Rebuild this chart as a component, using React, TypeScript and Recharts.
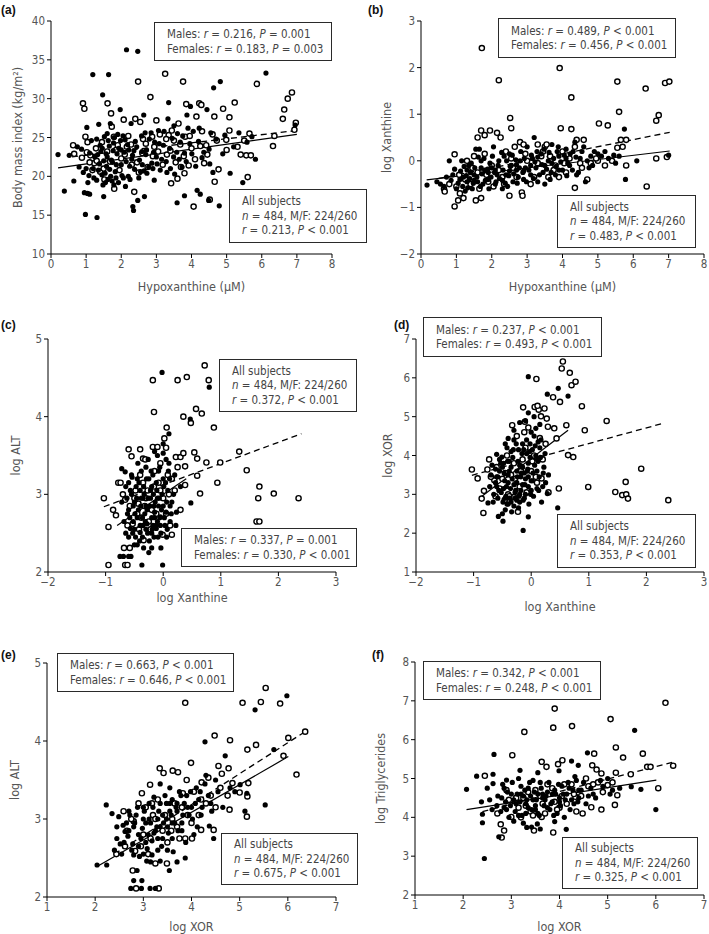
import React from 'react';
import { ScatterChart, Scatter, XAxis, YAxis, ReferenceLine } from 'recharts';

type Pt = [number, number];

const FONT = '"Liberation Sans Narrow", "DejaVu Sans Condensed", "Open Sans", sans-serif';

// ---- (a) Hypoxanthine vs BMI ----
const aFilled: Pt[] = [
  [0.2, 22.8], [0.38, 18.1], [0.52, 22.7], [0.65, 19.4], [0.87, 23.5], [0.95, 17.9], [0.98, 15.1], [1.04, 17.8],
  [1.02, 26.3], [1.1, 17.7], [1.19, 33.1], [1.31, 14.7], [1.36, 26.7], [1.47, 30.5], [1.5, 17.4], [1.64, 33.1],
  [1.69, 26.8], [1.45, 20.2], [1.6, 22.5], [1.79, 18.9], [1.93, 23.6], [1.97, 28.6], [2.12, 18.7], [2.15, 36.3],
  [2.21, 23.4], [2.28, 26.8], [2.33, 16.1], [2.35, 15.6], [2.47, 36.1], [2.47, 16.9], [2.59, 23.2], [2.66, 17.4],
  [2.64, 27.9], [2.73, 20.4], [2.87, 21.7], [2.94, 19.5], [3.06, 25.9], [3.11, 20.8], [3.33, 27.4], [3.35, 29.5],
  [3.49, 22.5], [3.59, 16.6], [3.68, 24.4], [3.73, 21.2], [3.8, 17.5], [3.87, 27.9], [3.97, 29], [4.01, 22.9],
  [4.16, 18.2], [4.25, 17.7], [4.3, 22.4], [4.44, 28.6], [4.55, 25.6], [4.49, 16.9], [4.63, 31.4], [4.61, 20.5],
  [4.82, 32.2], [4.79, 16.2], [4.89, 22.9], [5.1, 20.4], [5.46, 19.2], [5.58, 24.4], [5.72, 25.1], [5.82, 22.2],
  [6.12, 33.3], [6.95, 26.6], [1.2, 21], [1.4, 24], [1.5, 22], [1.7, 20], [1.8, 25], [2.0, 21.5], [2.2, 20],
  [2.4, 24.5], [2.6, 21.5], [2.8, 24.8], [3.0, 22.5], [3.2, 24], [3.4, 21], [3.6, 25.5], [3.8, 23], [4.2, 24.5],
  [1.1, 23], [1.3, 19.5], [1.6, 25.5], [2.5, 19.8], [3.3, 20.5], [1.0, 21], [4.5, 23.5], [2.9, 21],
  [1.55, 19.2], [1.75, 21.8], [1.85, 19.8], [2.05, 25.2], [2.3, 22.2], [2.7, 22.8], [3.5, 26.5], [3.9, 26.2],
  [1.25, 22.5], [1.3, 24.8], [1.35, 20.8], [1.42, 23.2], [1.48, 18.9], [1.52, 25.1], [1.58, 21.3], [1.62, 19.6],
  [1.66, 23.9], [1.72, 22.1], [1.78, 24.3], [1.83, 20.6], [1.88, 22.9], [1.92, 19.2], [1.98, 24.6], [2.02, 20.1],
  [2.08, 23.1], [2.14, 21.9], [2.18, 24.1], [2.25, 19.6], [2.32, 22.7], [2.38, 20.9], [2.44, 23.8], [2.52, 22.1],
  [2.58, 25.2], [2.65, 20.7], [2.72, 23.4], [2.78, 21.2], [2.85, 25.6], [2.92, 23.1], [3.02, 21.6], [3.08, 24.2],
  [3.15, 22.2], [3.22, 25.8], [3.28, 21.9], [3.38, 23.6], [3.45, 24.9], [3.52, 20.3], [3.58, 23.1], [3.65, 22.2],
  [3.75, 25.2], [3.85, 21.9], [3.95, 24.2], [4.05, 25.8], [4.12, 21.3], [4.22, 26.2], [4.35, 23.1], [4.52, 21.6],
  [4.7, 24.8], [4.95, 25.3], [5.2, 23.8], [5.35, 25.6], [0.8, 21.2], [0.92, 20.5], [1.08, 20.1], [1.15, 24.6],
  [0.75, 23.8], [1.05, 19.2], [1.22, 19.8], [1.33, 22.8], [1.38, 21.6], [1.46, 23.6], [1.54, 20.4], [1.57, 22.9],
  [1.63, 24.6], [1.67, 20.9], [1.74, 19.4], [1.77, 23.3], [1.86, 21.5], [1.9, 25.4], [2.0, 23.4], [2.06, 19.8],
  [2.11, 24.7], [2.24, 21.3], [2.36, 23.3], [2.55, 20.6], [2.68, 25.6], [2.95, 24.4],
];
const aOpen: Pt[] = [
  [0.91, 29.4], [0.95, 28.7], [0.63, 24], [0.66, 22.9], [0.98, 25.1], [1.04, 24.4], [1.12, 22.7], [1.23, 21.7],
  [1.4, 20.6], [1.61, 29.4], [1.71, 28.1], [1.73, 26.4], [1.79, 25.1], [1.8, 18.4], [2.07, 27.3], [2.16, 23.8],
  [2.37, 18], [2.48, 32.2], [2.4, 27.4], [2.54, 27], [2.83, 30.2], [2.94, 23.8], [3.0, 27.2], [3.25, 33.2],
  [3.35, 25.3], [3.42, 19.1], [3.44, 25.9], [3.63, 26.8], [3.76, 32.2], [3.82, 25.1], [3.85, 29.3], [3.92, 21.4],
  [4.06, 16.1], [4.14, 27.7], [4.22, 29.4], [4.28, 29.2], [4.36, 21.7], [4.42, 24], [4.52, 17], [4.66, 19.3],
  [4.65, 27.7], [4.72, 24.6], [4.77, 20.9], [4.9, 28.7], [4.99, 24.7], [5.08, 27.6], [5.08, 25.9], [5.23, 29.5],
  [5.31, 23.8], [5.56, 22.7], [5.6, 19.9], [5.65, 25.5], [5.69, 22.7], [5.86, 31.9], [6.32, 23.9], [6.36, 25.2],
  [6.6, 27.4], [6.64, 28.6], [6.74, 30], [6.86, 30.8], [6.93, 26], [6.97, 26.9], [1.3, 22], [1.5, 21], [1.9, 24],
  [2.0, 22.3], [2.3, 21.5], [2.6, 23], [2.7, 24.2], [3.1, 25.4], [3.3, 22.8], [3.5, 24.6], [3.7, 21.2], [4.0, 23.6],
  [1.6, 23.2], [2.2, 25.2], [2.9, 22.6], [3.8, 20.4], [1.1, 21.8], [4.3, 25.8], [2.5, 20.5], [3.6, 19.7],
  [1.18, 20.8], [1.28, 23.6], [1.45, 24.4], [1.52, 19.6], [1.68, 21.9], [1.85, 23.4], [1.95, 20.8], [2.1, 22.8],
  [2.28, 24.1], [2.45, 21.8], [2.62, 24.8], [2.75, 21.2], [2.88, 25.1], [3.05, 23.2], [3.18, 21.5], [3.28, 24.8],
  [3.4, 23.3], [3.55, 21.8], [3.68, 24.1], [3.78, 22.6], [3.95, 25.2], [4.1, 22.2], [4.25, 23.9], [4.45, 22.8],
  [4.6, 25.4], [5.0, 23.4], [5.4, 22.8], [5.5, 24.6], [0.88, 22.4], [1.02, 23.1],
];
const aSolid: Pt[] = [[0.2, 21.1], [7, 25.4]];
const aDashed: Pt[] = [[0.6, 22.5], [7, 25.9]];

// ---- (b) Hypoxanthine vs log Xanthine ----
const bFilled: Pt[] = [
  [0.17, -0.52], [0.45, -0.45], [0.55, -0.5], [0.65, -0.55], [0.9, -0.3], [0.8, 0.0], [1.0, -0.6], [1.1, -0.4],
  [1.2, -0.35], [1.3, -0.45], [1.35, -0.1], [1.45, -0.6], [1.5, -0.3], [1.55, 0.25], [1.65, 0.25], [1.7, 0.0],
  [1.8, -0.2], [1.9, -0.4], [2.0, -0.15], [2.1, -0.5], [2.2, 0.0], [2.3, -0.6], [2.4, -0.3], [2.5, 0.15],
  [2.6, -0.45], [2.7, -0.2], [2.8, 0.0], [2.9, -0.4], [3.0, 0.3], [3.1, -0.1], [3.2, 0.5], [3.3, -0.45],
  [3.4, 0.15], [3.5, -0.5], [3.6, 0.0], [3.7, 0.35], [3.8, -0.3], [3.9, 0.1], [4.0, -0.2], [4.1, 0.25],
  [4.2, -0.1], [4.3, 0.2], [4.4, -0.3], [4.5, 0.05], [4.6, 0.3], [4.65, -0.45], [4.8, 0.1], [4.9, 0.2],
  [5.1, 0.1], [5.3, 0.05], [5.6, 0.1], [5.75, 0.68], [5.78, -0.4], [6.1, 0.0], [7.0, 0.12], [1.75, -0.5],
  [2.45, -0.55], [3.25, -0.15], [1.25, -0.65], [2.05, 0.3], [1.4, -0.25], [1.6, -0.45], [1.95, -0.05],
  [2.15, -0.3], [2.35, 0.1], [2.55, -0.1], [2.75, -0.35], [2.95, -0.15], [3.15, 0.05], [3.45, -0.25],
  [3.65, -0.4], [3.85, 0.2], [4.15, -0.05], [4.35, 0.4], [4.75, -0.15], [5.2, 0.2], [5.5, -0.05], [1.15, 0.0],
  [1.05, -0.48], [1.12, -0.22], [1.18, -0.55], [1.22, -0.12], [1.28, -0.32], [1.32, -0.58], [1.38, -0.38],
  [1.42, -0.05], [1.48, -0.48], [1.52, -0.15], [1.58, -0.35], [1.62, 0.08], [1.68, -0.55], [1.72, -0.28],
  [1.78, 0.05], [1.82, -0.42], [1.88, -0.18], [1.92, -0.6], [1.98, -0.35], [2.02, 0.1], [2.08, -0.25],
  [2.12, -0.45], [2.18, -0.1], [2.22, -0.38], [2.28, 0.18], [2.32, -0.2], [2.38, -0.48], [2.42, 0.0],
  [2.48, -0.32], [2.52, -0.12], [2.58, 0.12], [2.62, -0.28], [2.68, 0.02], [2.72, -0.48], [2.78, -0.15],
  [2.82, 0.2], [2.88, -0.25], [2.92, 0.05], [2.98, -0.45], [3.05, -0.2], [3.12, 0.12], [3.18, -0.38],
  [3.22, -0.02], [3.28, 0.2], [3.35, -0.3], [3.42, -0.08], [3.48, 0.25], [3.55, -0.18], [3.62, 0.18],
  [3.68, -0.25], [3.75, 0.05], [3.82, -0.12], [3.88, 0.3], [3.95, -0.02], [4.05, 0.12], [4.12, -0.32],
  [4.22, 0.15], [4.28, -0.2], [4.38, 0.08], [4.45, -0.25], [4.55, 0.2], [4.7, 0.0], [4.85, -0.1], [5.0, 0.15],
  [5.45, 0.12], [0.85, -0.42], [0.95, -0.18], [0.72, -0.35], [1.3, -0.2], [1.5, -0.42], [1.7, -0.15],
  [1.9, -0.25], [2.1, -0.2], [2.3, -0.42], [2.5, -0.22], [2.7, -0.08], [2.9, -0.22], [3.1, -0.3], [3.3, 0.08],
  [3.5, -0.1], [3.7, -0.05], [3.9, -0.2], [4.1, 0.05],
];
const bOpen: Pt[] = [
  [1.72, 2.42], [2.2, 1.73], [3.92, 1.99], [4.25, 1.36], [5.55, 1.7], [6.35, 1.55], [6.9, 1.67], [7.02, 1.7],
  [5.6, 1.05], [6.72, 0.98], [6.65, 0.86], [2.52, 0.92], [2.55, 0.7], [1.7, 0.65], [1.95, 0.65], [2.15, 0.6],
  [1.6, 0.5], [1.8, 0.55], [2.25, 0.5], [3.95, 0.7], [4.25, 0.68], [5.03, 0.8], [5.28, 0.76], [4.6, 0.45],
  [5.65, 0.45], [5.55, 0.28], [5.8, 0.45], [0.95, 0.14], [2.8, 0.4], [2.9, 0.35], [3.3, 0.35], [3.5, 0.3],
  [4.0, 0.2], [4.35, 0.3], [4.4, 0.45], [0.95, -0.98], [1.05, -0.85], [1.55, -0.85], [1.7, -0.8], [2.5, -0.75],
  [2.85, -0.68], [2.87, -0.75], [4.35, -0.58], [6.38, -0.55], [0.65, -0.6], [0.67, -0.66], [1.0, -0.55],
  [1.1, -0.7], [6.65, 0.05], [6.95, 0.08], [5.0, 0.0], [5.4, 0.0], [5.8, -0.1], [3.6, -0.35], [3.2, -0.35],
  [2.0, -0.1], [1.6, -0.25], [1.9, -0.45], [2.6, -0.15], [3.0, 0.0], [3.8, -0.1], [4.5, -0.05], [1.4, -0.5],
  [2.3, -0.35], [4.7, -0.4], [1.3, 0.0], [2.4, 0.2], [3.4, 0.1], [4.1, -0.25], [1.8, 0.15], [5.7, 0.3],
  [1.08, -0.3], [1.25, -0.4], [1.45, -0.15], [1.65, -0.6], [1.85, -0.3], [2.05, -0.55], [2.2, -0.2],
  [2.35, -0.5], [2.55, 0.05], [2.7, -0.35], [2.95, 0.15], [3.1, -0.5], [3.3, -0.05], [3.45, 0.2], [3.65, 0.1],
  [3.75, -0.2], [3.9, -0.35], [4.05, -0.05], [4.2, 0.05], [4.55, -0.15], [4.8, -0.05], [4.95, 0.05],
  [5.2, -0.1], [1.2, -0.8], [0.8, -0.5], [1.5, 0.1], [2.65, 0.3], [3.55, 0.35],
];
const bSolid: Pt[] = [[0.16, -0.41], [7.03, 0.21]];
const bDashed: Pt[] = [[0.5, -0.38], [7.03, 0.61]];

// ---- (c) log Xanthine vs log ALT ----
const cFilled: Pt[] = [
  [-0.02, 4.57], [0.8, 4.38], [0.47, 3.97], [0.1, 3.78], [0.0, 3.53], [-0.72, 3.33], [-0.66, 3.29], [-0.54, 3.22],
  [0.48, 2.89], [0.23, 2.77], [0.05, 2.77], [-0.15, 2.77], [-0.75, 2.2], [-0.69, 2.2], [-0.6, 2.2], [-0.56, 2.2],
  [-0.37, 2.09], [-0.01, 2.09], [-0.34, 2.31], [-0.2, 2.31], [-0.04, 2.31], [-0.28, 2.62], [-0.57, 2.56],
  [-0.4, 2.51], [-0.12, 2.56], [0.06, 2.45], [-0.05, 2.71], [-0.5, 2.9], [-0.4, 3.05], [-0.3, 2.85], [-0.2, 3.1],
  [-0.1, 2.95], [0.0, 3.2], [0.1, 3.4], [-0.45, 2.7], [-0.35, 2.6], [-0.25, 3.2], [-0.15, 2.7], [-0.55, 3.0],
  [0.2, 3.25], [-0.6, 2.8], [-0.05, 2.6], [0.15, 2.9], [-0.3, 3.35], [0.0, 2.85], [-0.65, 3.1], [-0.2, 2.5],
  [-0.48, 2.45], [-0.42, 3.15], [-0.32, 2.75], [-0.22, 2.95], [-0.08, 3.3], [0.08, 3.05], [-0.52, 2.65],
  [-0.38, 2.95], [-0.18, 2.6], [0.12, 2.65], [-0.6, 2.45], [0.3, 3.1], [-0.1, 3.5],
  [-0.68, 2.65], [-0.63, 2.95], [-0.58, 2.7], [-0.55, 3.25], [-0.52, 2.85], [-0.5, 2.55], [-0.47, 3.1],
  [-0.45, 2.35], [-0.43, 2.8], [-0.4, 2.6], [-0.38, 3.3], [-0.36, 2.45], [-0.33, 3.0], [-0.3, 2.55],
  [-0.28, 2.8], [-0.26, 3.45], [-0.24, 2.4], [-0.22, 3.05], [-0.2, 2.7], [-0.18, 3.25], [-0.16, 2.45],
  [-0.14, 2.9], [-0.12, 3.15], [-0.1, 2.65], [-0.08, 2.85], [-0.06, 3.35], [-0.04, 2.5], [-0.02, 3.0],
  [0.02, 2.7], [0.04, 3.15], [0.07, 2.55], [0.09, 3.3], [0.12, 2.85], [0.18, 3.0], [0.22, 2.6], [-0.72, 2.9],
  [-0.65, 2.5], [-0.5, 2.35], [-0.35, 2.95], [-0.15, 3.55], [0.0, 3.65], [0.05, 3.45], [-0.25, 2.25],
  [-0.45, 3.2], [-0.6, 3.15], [-0.62, 2.75], [-0.57, 3.05], [-0.53, 2.5], [-0.49, 2.75], [-0.46, 2.95],
  [-0.41, 2.4], [-0.39, 2.85], [-0.34, 3.1], [-0.31, 2.65], [-0.29, 3.2], [-0.27, 2.5], [-0.23, 2.85],
  [-0.21, 3.3], [-0.19, 2.55], [-0.17, 3.0], [-0.13, 2.6], [-0.11, 3.05], [-0.09, 2.45], [-0.07, 2.95],
  [-0.03, 2.8], [0.01, 3.1], [0.03, 2.6], [0.06, 2.9], [0.11, 3.2], [0.14, 2.75], [-0.44, 3.4], [-0.36, 2.7],
  [-0.26, 2.95], [-0.16, 2.85], [-0.06, 2.7],
];
const cOpen: Pt[] = [
  [-1.03, 2.95], [-0.95, 2.58], [-0.95, 2.09], [-0.87, 2.8], [-0.82, 2.73], [-0.78, 3.15], [-0.74, 3.15],
  [-0.66, 2.93], [-0.68, 2.31], [-0.58, 2.31], [-0.66, 2.09], [-0.62, 2.09], [-0.6, 3.58], [-0.55, 3.49],
  [-0.4, 3.58], [-0.35, 3.46], [-0.31, 3.45], [-0.18, 3.61], [-0.16, 4.06], [-0.18, 4.47], [-0.1, 3.61],
  [0.02, 3.72], [0.06, 3.86], [0.05, 3.6], [0.25, 4.47], [0.41, 4.51], [0.35, 4.0], [0.48, 3.92], [0.22, 3.48],
  [0.3, 3.48], [0.35, 3.53], [0.38, 3.36], [0.38, 3.12], [0.54, 3.54], [0.59, 3.46], [0.57, 4.1], [0.67, 4.04],
  [0.64, 3.01], [0.59, 3.24], [0.75, 3.41], [0.72, 4.66], [0.79, 4.47], [0.88, 3.86], [0.94, 3.15], [0.99, 3.41],
  [1.32, 3.55], [1.45, 3.31], [1.62, 2.65], [1.67, 2.65], [1.65, 2.95], [1.67, 3.1], [1.92, 3.01], [2.35, 2.95],
  [-0.34, 2.41], [-0.16, 3.1], [-0.01, 2.48], [0.15, 2.48], [-0.53, 2.62], [-0.43, 2.88], [-0.45, 2.75],
  [-0.3, 2.95], [-0.2, 2.8], [-0.05, 3.05], [0.1, 3.0], [-0.35, 3.15], [-0.5, 2.95], [-0.15, 3.3], [0.05, 2.75],
  [-0.25, 2.65], [0.15, 3.2], [-0.4, 3.25], [-0.58, 2.85], [-0.48, 3.05], [-0.42, 2.55], [-0.32, 2.85],
  [-0.27, 3.05], [-0.22, 2.55], [-0.12, 2.75], [-0.08, 3.15], [0.0, 2.95], [0.08, 3.25], [0.12, 2.6],
  [0.2, 3.05], [-0.38, 2.7], [-0.62, 2.6], [-0.7, 3.0], [0.25, 3.35], [-0.05, 3.4], [0.3, 2.8],
];
const cSolid: Pt[] = [[-0.8, 2.6], [0.4, 3.2]];
const cDashed: Pt[] = [[-1.03, 2.84], [2.4, 3.78]];

// ---- (d) log Xanthine vs log XOR ----
const dFilled: Pt[] = [
  [-0.05, 6.03], [0.28, 5.58], [0.47, 5.73], [0.64, 5.53], [-0.6, 4.03], [-0.51, 3.96], [-0.4, 4.44],
  [-0.75, 2.78], [-0.57, 2.43], [-0.49, 2.31], [-0.05, 2.42], [-0.14, 2.07], [0.46, 2.65], [0.28, 3.02],
  [0.24, 4.05], [-0.7, 3.5], [-0.6, 3.2], [-0.5, 3.7], [-0.45, 2.9], [-0.4, 3.3], [-0.35, 4.1], [-0.3, 2.7],
  [-0.25, 3.6], [-0.2, 3.0], [-0.15, 4.3], [-0.1, 3.4], [-0.05, 3.8], [0.0, 3.1], [0.05, 4.5], [0.1, 3.6],
  [0.15, 4.2], [-0.55, 3.9], [-0.45, 2.6], [-0.3, 4.4], [-0.2, 2.8], [0.2, 3.2], [-0.65, 3.0], [-0.1, 4.9],
  [0.0, 4.6], [-0.4, 3.5], [-0.25, 3.3], [-0.15, 3.7], [-0.05, 3.2], [0.08, 4.0], [-0.35, 2.8], [-0.58, 3.45],
  [-0.48, 3.15], [-0.38, 3.85], [-0.28, 3.05], [-0.18, 3.45], [-0.08, 4.05], [0.02, 3.35], [0.12, 3.85],
  [-0.42, 2.75], [-0.22, 4.15], [-0.12, 2.9], [0.3, 3.5], [-0.62, 3.65], [-0.02, 4.3],
  [-0.62, 3.3], [-0.58, 2.9], [-0.55, 3.6], [-0.52, 3.05], [-0.5, 2.5], [-0.48, 3.8], [-0.46, 3.35],
  [-0.44, 2.95], [-0.42, 4.2], [-0.4, 2.75], [-0.38, 3.6], [-0.36, 3.15], [-0.34, 2.55], [-0.32, 3.95],
  [-0.3, 3.25], [-0.28, 2.9], [-0.26, 4.3], [-0.24, 3.45], [-0.22, 2.65], [-0.2, 3.75], [-0.18, 3.1],
  [-0.16, 4.05], [-0.14, 2.85], [-0.12, 3.55], [-0.1, 3.0], [-0.08, 4.4], [-0.06, 3.65], [-0.04, 2.75],
  [-0.02, 3.95], [0.0, 3.35], [0.02, 4.15], [0.04, 2.95], [0.06, 3.75], [0.08, 4.7], [0.1, 3.15], [0.12, 4.35],
  [0.14, 3.45], [0.16, 3.95], [0.18, 2.8], [0.22, 3.7], [0.25, 3.3], [-0.68, 3.75], [-0.72, 3.2], [-0.66, 2.8],
  [-0.3, 4.65], [-0.2, 4.85], [-0.05, 5.1], [0.05, 5.0], [0.15, 4.8], [-0.6, 3.45], [-0.56, 3.1], [-0.53, 3.8],
  [-0.49, 2.8], [-0.47, 3.55], [-0.43, 3.2], [-0.41, 3.85], [-0.37, 2.9], [-0.33, 3.4], [-0.31, 4.15],
  [-0.27, 3.1], [-0.23, 3.85], [-0.21, 2.95], [-0.17, 3.55], [-0.13, 4.15], [-0.11, 3.25], [-0.07, 3.6],
  [-0.03, 4.1], [-0.01, 3.0], [0.03, 3.55], [0.07, 4.25], [0.11, 3.9], [0.13, 3.1], [0.17, 4.4], [0.21, 3.55],
  [-0.45, 4.3], [-0.35, 3.7], [-0.25, 2.85], [-0.15, 3.25], [-0.05, 3.45],
];
const dOpen: Pt[] = [
  [-1.03, 3.64], [-0.93, 3.41], [-0.86, 2.89], [-0.83, 2.52], [-0.82, 3.09], [-0.76, 3.64], [-0.73, 3.9],
  [-0.64, 3.36], [-0.33, 4.78], [-0.3, 2.93], [-0.23, 2.55], [-0.14, 5.24], [-0.11, 4.87], [-0.05, 4.72],
  [0.06, 5.25], [0.09, 5.97], [0.13, 5.18], [0.17, 5.01], [0.23, 5.21], [0.27, 4.95], [0.29, 4.74], [0.38, 5.5],
  [0.4, 4.7], [0.44, 4.44], [0.5, 5.38], [0.53, 6.24], [0.55, 6.42], [0.61, 4.78], [0.67, 6.13], [0.7, 5.81],
  [0.77, 5.9], [0.64, 4.01], [0.73, 3.96], [0.88, 5.27], [0.93, 4.65], [0.18, 3.92], [0.18, 3.41], [0.48, 3.15],
  [0.99, 3.19], [1.31, 4.89], [1.46, 3.06], [1.58, 2.98], [1.64, 3.32], [1.65, 3.0], [1.68, 2.89], [1.91, 3.66],
  [2.38, 2.85], [0.11, 5.28], [-0.17, 3.71], [-0.46, 2.85], [-0.5, 3.4], [-0.3, 3.8], [-0.2, 3.2], [-0.1, 4.2],
  [0.0, 3.6], [-0.4, 3.0], [-0.25, 4.5], [0.05, 4.0], [-0.6, 3.7], [0.1, 3.3], [-0.15, 3.9], [-0.35, 3.5],
  [-0.55, 3.15], [-0.45, 3.55], [-0.38, 2.95], [-0.28, 3.4], [-0.18, 3.6], [-0.08, 3.05], [0.02, 3.85],
  [0.08, 3.45], [0.15, 4.45], [0.2, 3.9], [-0.12, 4.6], [0.25, 4.3], [-0.42, 4.0], [-0.62, 2.95], [-0.7, 3.45],
  [0.3, 3.05],
];
const dSolid: Pt[] = [[-0.9, 2.9], [0.64, 4.65]];
const dDashed: Pt[] = [[-1.03, 3.49], [2.32, 4.84]];

// ---- (e) log XOR vs log ALT ----
const eFilled: Pt[] = [
  [2.04, 2.41], [2.24, 2.41], [2.23, 3.18], [2.35, 3.07], [2.49, 3.03], [2.45, 2.75], [2.62, 2.84], [2.76, 2.6],
  [2.8, 2.54], [2.74, 2.11], [2.8, 2.21], [2.87, 2.34], [2.97, 2.21], [2.96, 2.11], [3.14, 2.11], [3.25, 2.11],
  [3.07, 2.46], [3.18, 2.54], [3.35, 2.46], [3.54, 2.34], [3.87, 2.5], [4.28, 3.99], [4.3, 3.56], [4.37, 2.91],
  [4.46, 2.75], [4.7, 3.81], [5.01, 3.44], [5.15, 3.33], [5.11, 3.1], [5.32, 4.4], [5.53, 3.18], [5.71, 3.89],
  [5.98, 4.58], [2.6, 2.7], [2.8, 2.9], [2.9, 2.65], [3.0, 3.0], [3.1, 2.8], [3.2, 3.15], [3.3, 2.75],
  [3.4, 3.05], [3.5, 2.9], [3.6, 3.25], [3.7, 3.1], [3.8, 2.95], [3.9, 3.3], [4.0, 3.15], [4.1, 3.4],
  [4.2, 3.05], [3.0, 2.55], [3.3, 2.6], [3.6, 2.75], [2.7, 3.1], [3.45, 3.3], [3.15, 2.95], [3.55, 3.1],
  [3.85, 3.2], [4.5, 3.5], [4.8, 3.4], [2.55, 2.55], [2.9, 2.8], [3.25, 2.85], [3.35, 3.2], [3.65, 2.95],
  [3.75, 3.35], [3.95, 3.05], [4.05, 2.8], [4.15, 3.25], [4.4, 3.2], [2.65, 2.95], [3.05, 2.7], [3.5, 2.6],
  [2.52, 2.68], [2.58, 2.92], [2.68, 2.78], [2.72, 3.05], [2.78, 2.68], [2.82, 2.95], [2.88, 3.15], [2.92, 2.52],
  [2.98, 2.88], [3.02, 3.1], [3.08, 2.62], [3.12, 3.0], [3.18, 2.72], [3.22, 3.28], [3.28, 2.9], [3.32, 3.1],
  [3.38, 2.65], [3.42, 2.95], [3.48, 3.2], [3.52, 2.82], [3.58, 3.05], [3.62, 2.58], [3.68, 3.15], [3.72, 2.85],
  [3.78, 3.3], [3.82, 3.05], [3.88, 2.7], [3.92, 3.15], [3.98, 3.35], [4.02, 3.0], [4.08, 3.2], [4.12, 2.9],
  [4.18, 3.35], [4.22, 3.15], [4.28, 3.45], [4.35, 3.3], [4.42, 3.1], [4.55, 3.35], [4.65, 3.15], [4.9, 3.35],
  [3.35, 3.45], [3.55, 3.4], [3.7, 2.45], [3.15, 2.45], [2.45, 2.9], [2.4, 2.6], [2.7, 2.85], [2.85, 3.05],
  [2.95, 2.75], [3.05, 2.95], [3.12, 3.2], [3.22, 2.82], [3.3, 3.0], [3.4, 2.75], [3.48, 3.0], [3.6, 2.95],
  [3.7, 3.2], [3.8, 2.85], [3.35, 2.9], [3.55, 3.2], [3.0, 3.15],
];
const eOpen: Pt[] = [
  [2.44, 2.55], [2.59, 3.1], [2.66, 2.85], [2.83, 2.59], [2.78, 2.34], [2.85, 2.11], [2.8, 2.97], [2.97, 3.33],
  [3.14, 3.44], [3.34, 3.65], [3.42, 3.59], [3.18, 3.2], [3.32, 2.11], [3.25, 2.43], [3.49, 2.43], [3.61, 3.62],
  [3.72, 3.6], [3.87, 4.49], [3.99, 3.72], [3.9, 3.5], [3.82, 3.33], [3.87, 2.75], [4.01, 2.75], [4.2, 2.86],
  [4.46, 2.86], [4.21, 3.47], [4.35, 3.53], [4.48, 4.07], [4.56, 3.68], [4.63, 3.58], [4.8, 4.01], [4.77, 3.65],
  [4.79, 3.12], [4.85, 3.46], [5.0, 3.34], [5.06, 4.49], [5.16, 3.89], [5.18, 3.46], [5.16, 3.29], [5.15, 3.03],
  [5.34, 3.95], [5.44, 4.5], [5.54, 4.68], [5.84, 4.48], [5.91, 3.81], [6.01, 4.04], [6.18, 3.57], [6.36, 4.12],
  [3.0, 2.8], [3.2, 3.05], [3.4, 2.85], [3.6, 3.0], [3.8, 3.15], [4.0, 2.95], [4.2, 3.25], [3.3, 3.25],
  [3.5, 2.7], [3.7, 2.9], [2.9, 3.2], [4.4, 3.3], [2.62, 2.65], [2.75, 3.0], [2.95, 2.65], [3.05, 3.15],
  [3.15, 2.75], [3.25, 3.0], [3.45, 3.05], [3.58, 2.85], [3.65, 3.2], [3.75, 2.75], [3.92, 3.05], [4.05, 3.35],
  [4.15, 3.05], [4.3, 3.2], [4.5, 3.15], [4.6, 3.4], [4.75, 3.3], [3.1, 2.55],
];
const eSolid: Pt[] = [[2.04, 2.39], [6.01, 3.8]];
const eDashed: Pt[] = [[2.4, 2.55], [6.36, 4.12]];

// ---- (f) log XOR vs log Triglycerides ----
const fFilled: Pt[] = [
  [2.07, 4.72], [2.28, 5.06], [2.38, 4.4], [2.4, 4.08], [2.4, 3.86], [2.44, 2.94], [2.62, 5.11], [2.64, 5.62],
  [2.62, 4.87], [2.74, 3.5], [2.9, 4.96], [3.18, 5.21], [3.32, 3.74], [3.54, 3.83], [3.9, 3.89], [3.99, 5.2],
  [4.14, 3.69], [4.25, 5.45], [4.39, 5.34], [4.58, 5.66], [5.56, 6.24], [5.49, 4.79], [5.69, 4.72], [6.0, 4.2],
  [2.7, 4.3], [2.8, 4.5], [2.9, 4.2], [3.0, 4.6], [3.1, 4.35], [3.2, 4.8], [3.3, 4.1], [3.4, 4.55], [3.5, 4.3],
  [3.6, 4.9], [3.7, 4.45], [3.8, 4.2], [3.9, 4.7], [4.0, 4.5], [4.1, 4.0], [4.2, 4.75], [4.3, 4.35], [4.5, 4.9],
  [4.7, 4.6], [4.9, 4.8], [5.1, 4.7], [3.05, 3.9], [3.45, 4.95], [2.95, 4.0], [3.35, 4.25], [3.75, 4.65],
  [4.4, 4.5], [5.0, 5.0], [2.85, 4.75], [3.15, 4.05], [3.25, 4.55], [3.55, 4.1], [3.65, 4.6], [3.85, 4.4],
  [4.05, 4.8], [4.6, 4.55], [3.42, 3.75], [4.35, 4.95], [2.55, 4.45], [3.95, 4.1],
  [2.72, 4.55], [2.78, 4.15], [2.82, 4.85], [2.88, 4.4], [2.92, 4.65], [2.98, 4.3], [3.02, 4.9], [3.08, 4.15],
  [3.12, 4.6], [3.18, 4.4], [3.22, 4.05], [3.28, 4.7], [3.32, 4.45], [3.38, 4.9], [3.42, 4.2], [3.48, 4.65],
  [3.52, 4.45], [3.58, 4.05], [3.62, 4.75], [3.68, 4.3], [3.72, 4.55], [3.78, 4.9], [3.82, 4.35], [3.88, 4.05],
  [3.92, 4.6], [3.98, 4.85], [4.02, 4.3], [4.08, 4.6], [4.12, 4.45], [4.18, 4.9], [4.22, 4.2], [4.28, 4.7],
  [4.32, 5.05], [4.38, 4.4], [4.45, 4.7], [4.55, 4.35], [4.65, 4.75], [4.75, 4.5], [4.85, 4.95], [5.05, 4.6],
  [5.25, 4.75], [3.25, 3.85], [3.6, 3.7], [2.6, 4.2], [2.5, 4.75], [3.15, 5.0], [3.55, 5.15], [3.05, 4.45],
  [3.2, 4.6], [3.3, 4.35], [3.45, 4.45], [3.55, 4.6], [3.65, 4.5], [3.75, 4.25], [3.85, 4.6], [4.0, 4.4],
  [4.15, 4.6], [4.25, 4.45], [3.35, 4.75], [3.5, 4.2], [2.85, 4.25], [4.4, 4.7],
];
const fOpen: Pt[] = [
  [2.45, 5.07], [2.71, 4.1], [2.78, 3.82], [2.8, 3.48], [2.85, 3.66], [3.02, 5.6], [3.27, 6.2], [3.47, 3.66],
  [3.63, 5.43], [3.73, 5.3], [3.87, 6.31], [3.87, 3.61], [3.9, 6.8], [3.97, 5.37], [4.06, 5.47], [4.26, 6.35],
  [4.48, 4.1], [4.68, 5.34], [4.72, 5.64], [4.77, 5.23], [4.87, 5.13], [5.06, 6.53], [5.17, 5.8], [5.15, 4.32],
  [5.17, 5.15], [5.32, 5.54], [5.48, 5.11], [5.73, 5.64], [5.82, 5.3], [5.89, 5.3], [6.2, 6.95], [6.05, 4.75],
  [6.36, 5.33], [4.66, 4.26], [4.87, 4.2], [5.0, 4.83], [5.2, 4.57], [4.33, 4.53], [3.0, 4.01], [3.63, 4.01],
  [3.1, 4.5], [3.3, 4.3], [3.5, 4.7], [3.7, 4.1], [3.9, 4.4], [4.1, 4.85], [4.3, 4.6], [3.2, 4.0], [3.6, 4.55],
  [4.0, 4.25], [2.9, 4.7], [4.6, 4.8], [4.8, 4.9], [3.4, 4.15], [2.95, 4.45], [3.15, 4.25], [3.35, 4.65],
  [3.45, 4.05], [3.65, 4.35], [3.85, 4.75], [3.95, 4.2], [4.05, 4.55], [4.15, 4.35], [4.25, 4.85], [4.45, 4.55],
  [4.55, 5.0], [4.7, 4.85], [4.9, 4.65], [5.1, 4.9], [3.25, 4.5], [3.75, 4.85], [4.35, 4.15],
];
const fSolid: Pt[] = [[2.07, 4.2], [6.01, 4.96]];
const fDashed: Pt[] = [[2.4, 4.15], [6.39, 5.43]];

// ticks
const ticks0to8 = [0, 1, 2, 3, 4, 5, 6, 7, 8];
const ticksM2to3 = [-2, -1, 0, 1, 2, 3];
const ticks1to7 = [1, 2, 3, 4, 5, 6, 7];
const bmiTicks = [10, 15, 20, 25, 30, 35, 40];
const xanTicks = [-2, -1, 0, 1, 2, 3];
const altTicks = [2, 3, 4, 5];
const xorTicks = [1, 2, 3, 4, 5, 6, 7];
const tgTicks = [2, 3, 4, 5, 6, 7, 8];

const toXY = (pts: Pt[]) => pts.map(([x, y]) => ({ x, y }));
const fmt = (v: number) => String(v).replace('-', '\u2212');

const FilledDot = (p: any) => <circle cx={p.cx} cy={p.cy} r={2.6} fill="#000" />;
const OpenDot = (p: any) => <circle cx={p.cx} cy={p.cy} r={2.6} fill="#fff" stroke="#000" strokeWidth={1.4} />;

const panels = [
  { id: 'a', plot: [51, 21, 332, 254], xd: [0, 8], xt: ticks0to8, yd: [10, 40], yt: bmiTicks, xl: 'Hypoxanthine (\u03bcM)', yl: 'Body mass index (kg/m\u00b2)', xo: 11, yo: 12, filled: aFilled, open: aOpen, solid: aSolid, dashed: aDashed },
  { id: 'b', plot: [421, 21, 704, 254], xd: [0, 8], xt: ticks0to8, yd: [-2, 3], yt: xanTicks, xl: 'Hypoxanthine (\u03bcM)', yl: 'log Xanthine', xo: 11, yo: 11, filled: bFilled, open: bOpen, solid: bSolid, dashed: bDashed },
  { id: 'c', plot: [48, 339, 336, 572], xd: [-2, 3], xt: ticksM2to3, yd: [2, 5], yt: altTicks, xl: 'log Xanthine', yl: 'log ALT', xo: 18, yo: 13, filled: cFilled, open: cOpen, solid: cSolid, dashed: cDashed },
  { id: 'd', plot: [416, 339, 704, 572], xd: [-2, 3], xt: ticksM2to3, yd: [1, 7], yt: xorTicks, xl: 'log Xanthine', yl: 'log XOR', xo: 9, yo: 17, filled: dFilled, open: dOpen, solid: dSolid, dashed: dDashed },
  { id: 'e', plot: [47, 663, 336, 897], xd: [1, 7], xt: ticks1to7, yd: [2, 5], yt: altTicks, xl: 'log XOR', yl: 'log ALT', xo: 14, yo: 13, filled: eFilled, open: eOpen, solid: eSolid, dashed: eDashed },
  { id: 'f', plot: [415, 662, 704, 895], xd: [1, 7], xt: ticks1to7, yd: [2, 8], yt: tgTicks, xl: 'log XOR', yl: 'log Triglycerides', xo: 12, yo: 11, filled: fFilled, open: fOpen, solid: fSolid, dashed: fDashed },
];

const panelLabels: [string, number, number][] = [
  ['(a)', 1, 3], ['(b)', 368, 3], ['(c)', 1, 318], ['(d)', 394, 318], ['(e)', 1, 648], ['(f)', 372, 648],
];

// [left, top, width, height, values]
const sexBoxes: [number, number, number, number, string[]][] = [
  [154, 22, 178, 39, ['0.216', '=', '0.001', '0.183', '=', '0.003']],
  [498, 18, 178, 40, ['0.489', '<', '0.001', '0.456', '<', '0.001']],
  [181, 528, 176, 39, ['0.337', '=', '0.001', '0.330', '<', '0.001']],
  [423, 317, 179, 40, ['0.237', '<', '0.001', '0.493', '<', '0.001']],
  [57, 653, 177, 39, ['0.663', '<', '0.001', '0.646', '<', '0.001']],
  [423, 661, 178, 39, ['0.342', '<', '0.001', '0.248', '<', '0.001']],
];
const allBoxes: [number, number, number, number, string][] = [
  [229, 189, 138, 54, '0.213'],
  [557, 195, 139, 53, '0.483'],
  [219, 359, 138, 53, '0.372'],
  [557, 514, 139, 54, '0.353'],
  [221, 833, 137, 52, '0.675'],
  [562, 837, 136, 52, '0.325'],
];

const boxStyle = (l: number, t: number, w: number, h: number): React.CSSProperties => ({
  position: 'absolute', left: l, top: t, width: w, height: h, boxSizing: 'border-box',
  border: '1.5px solid #2a2a2a', background: '#fff', display: 'flex', flexDirection: 'column',
  justifyContent: 'center', paddingLeft: 12, fontFamily: FONT, fontSize: 11.5, lineHeight: '14.5px',
  color: '#444', whiteSpace: 'nowrap',
});

function Panel({ cfg }: { cfg: any }) {
  const [L, T, R, B] = cfg.plot;
  const yw = 45, top = 8, right = 6, xh = 48;
  const axisText = { fontSize: 11.5, fill: '#555', fontFamily: FONT };
  return (
    <div style={{ position: 'absolute', left: L - yw, top: T - top }}>
      <ScatterChart width={R - L + yw + right} height={B - T + top + xh} margin={{ top, right, left: 0, bottom: 0 }} style={{ overflow: 'visible' }}>
        <XAxis type="number" dataKey="x" domain={cfg.xd} ticks={cfg.xt} interval={0} height={xh} tickSize={4}
          axisLine={{ stroke: '#000' }} tickLine={{ stroke: '#000' }} tick={axisText} tickFormatter={fmt} allowDataOverflow
          label={{ value: cfg.xl, position: 'insideBottom', offset: cfg.xo, fontSize: 12.5, fill: '#555', fontFamily: FONT }} />
        <YAxis type="number" dataKey="y" domain={cfg.yd} ticks={cfg.yt} interval={0} width={yw} tickSize={4}
          axisLine={{ stroke: '#000' }} tickLine={{ stroke: '#000' }} tick={axisText} tickFormatter={fmt} allowDataOverflow
          label={{ value: cfg.yl, angle: -90, position: 'insideLeft', offset: cfg.yo, fontSize: 12.5, fill: '#555', fontFamily: FONT, style: { textAnchor: 'middle' } }} />
        <Scatter data={toXY(cfg.open)} isAnimationActive={false} shape={OpenDot} />
        <Scatter data={toXY(cfg.filled)} isAnimationActive={false} shape={FilledDot} />
        <ReferenceLine segment={toXY(cfg.solid)} stroke="#000" strokeWidth={1.2} />
        <ReferenceLine segment={toXY(cfg.dashed)} stroke="#000" strokeWidth={1.3} strokeDasharray="6 4" />
      </ScatterChart>
    </div>
  );
}

export default function App() {
  return (
    <div style={{ position: 'absolute', left: 0, top: 0, width: 709, height: 934, background: '#fff', overflow: 'hidden' }}>
      {panels.map((p) => <Panel key={p.id} cfg={p} />)}
      {panelLabels.map(([t, x, y]) => (
        <div key={t} style={{ position: 'absolute', left: x, top: y, fontFamily: '"Liberation Sans", Arial, sans-serif', fontWeight: 'bold', fontSize: 12, color: '#111' }}>{t}</div>
      ))}
      {sexBoxes.map(([l, t, w, h, v], i) => (
        <div key={'s' + i} style={boxStyle(l, t, w, h)}>
          <div>Males: <i>r</i> = {v[0]}, <i>P</i> {v[1]} {v[2]}</div>
          <div>Females: <i>r</i> = {v[3]}, <i>P</i> {v[4]} {v[5]}</div>
        </div>
      ))}
      {allBoxes.map(([l, t, w, h, r], i) => (
        <div key={'b' + i} style={boxStyle(l, t, w, h)}>
          <div>All subjects</div>
          <div><i>n</i> = 484, M/F: 224/260</div>
          <div><i>r</i> = {r}, <i>P</i> &lt; 0.001</div>
        </div>
      ))}
    </div>
  );
}
